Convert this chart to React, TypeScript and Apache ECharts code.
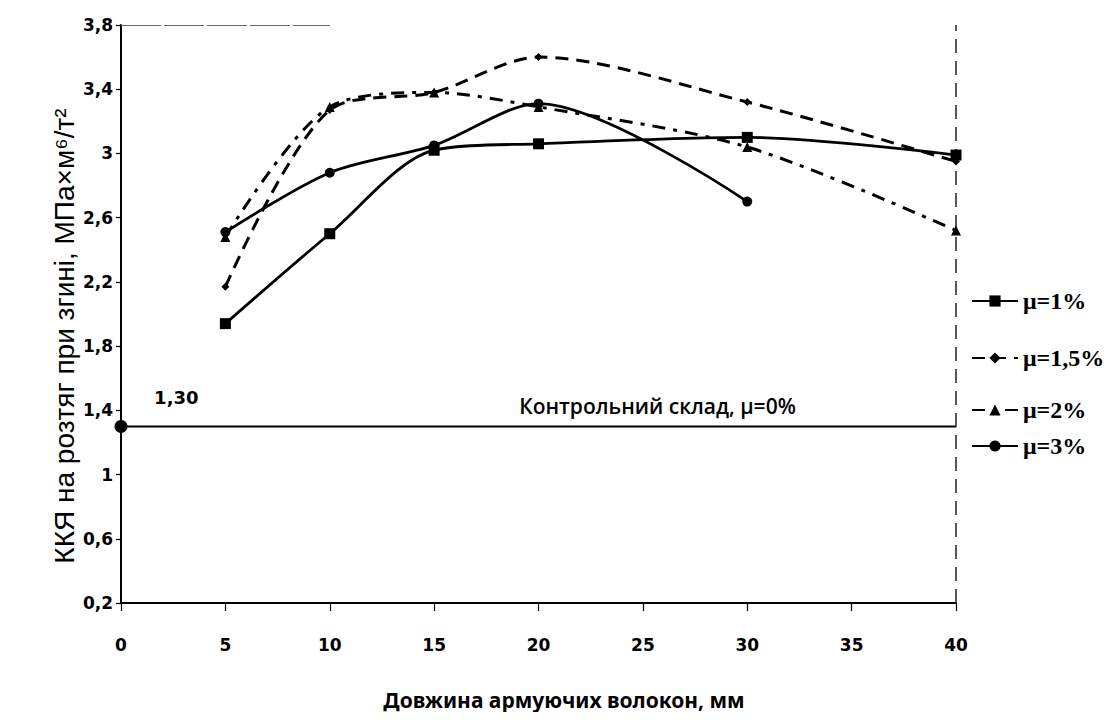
import React, { useEffect, useRef } from "react";
import * as echarts from "echarts";

const xTicks = [0, 5, 10, 15, 20, 25, 30, 35, 40];
const s1x = [5, 10, 15, 20, 30, 40];
const s1y = [1.94, 2.5, 3.02, 3.06, 3.1, 2.99];
const s15x = [5, 10, 15, 20, 30, 40];
const s15y = [2.17, 3.27, 3.38, 3.6, 3.32, 2.95];
const s2x = [5, 10, 15, 20, 30, 40];
const s2y = [2.48, 3.29, 3.38, 3.29, 3.04, 2.52];
const s3x = [5, 10, 15, 20, 30];
const s3y = [2.51, 2.88, 3.05, 3.31, 2.7];
const controlValue = 1.3;
const controlLabel = "1,30";
const controlText = "Контрольний склад, μ=0%";
const names = ["μ=1%", "μ=1,5%", "μ=2%", "μ=3%"];

const fmt = (v: number) => String(Number(v.toFixed(1))).replace(".", ",");

export default function App() {
  const ref = useRef<HTMLDivElement>(null);
  useEffect(() => {
    const chart = echarts.init(ref.current!, null, { renderer: "svg" });
    const zip = (xs: number[], ys: number[]) => xs.map((x, i) => [x, ys[i]]);
    const legendText = { fontFamily: "Liberation Serif", fontWeight: "bold", fontSize: 24, color: "#000" };
    const mkLegend = (name: string, top: number) => ({
      data: [name],
      left: 966,
      top,
      orient: "vertical",
      itemWidth: 46,
      itemHeight: 14,
      itemGap: 0,
      textStyle: legendText,
    });
    const tickFont = { fontFamily: "DejaVu Sans", fontWeight: "bold", fontSize: 17, color: "#000" };
    chart.setOption({
      animation: false,
      backgroundColor: "#fff",
      grid: { left: 121, right: 161, top: 25, bottom: 117, containLabel: false },
      legend: [
        mkLegend(names[0], 284),
        mkLegend(names[1], 341),
        mkLegend(names[2], 393),
        mkLegend(names[3], 429),
      ],
      xAxis: {
        type: "value",
        min: 0,
        max: 40,
        interval: 5,
        axisLine: { show: true, lineStyle: { color: "#000", width: 2 } },
        axisTick: { show: true, inside: false, length: 8, lineStyle: { color: "#000", width: 1.2 } },
        splitLine: { show: false },
        axisLabel: {
          margin: 33,
          ...tickFont,
          formatter: (v: number) => (xTicks.includes(v) ? String(v) : ""),
        },
      },
      yAxis: {
        type: "value",
        min: 0.2,
        max: 3.8,
        interval: 0.4,
        axisLine: { show: true, lineStyle: { color: "#000", width: 2 } },
        axisTick: { show: true, length: 5, lineStyle: { color: "#000", width: 1.2 } },
        splitLine: { show: false },
        axisLabel: {
          margin: 8,
          ...tickFont,
          formatter: fmt,
        },
      },
      graphic: [
        {
          type: "text",
          x: 64,
          y: 336,
          rotation: Math.PI / 2,
          style: {
            text: "ККЯ на розтяг при згині, МПа×м⁶/т²",
            font: "28px 'Liberation Sans'",
            fill: "#000",
            align: "center",
            verticalAlign: "middle",
          },
        },
        {
          type: "text",
          x: 564,
          y: 700,
          style: {
            text: "Довжина армуючих волокон, мм",
            font: "bold 21px 'Noto Sans'",
            fill: "#000",
            align: "center",
            verticalAlign: "middle",
          },
        },
      ],
      series: [
        {
          name: names[0],
          type: "line",
          data: zip(s1x, s1y),
          smooth: 0.3,
          symbol: "rect",
          symbolSize: 11,
          itemStyle: { color: "#000" },
          lineStyle: { color: "#000", width: 2.8, type: "solid" },
          z: 5,
        },
        {
          name: names[1],
          type: "line",
          data: zip(s15x, s15y),
          smooth: 0.3,
          symbol: "diamond",
          symbolSize: 8,
          itemStyle: { color: "#000" },
          lineStyle: { color: "#000", width: 3, type: [13, 8] },
          z: 5,
        },
        {
          name: names[2],
          type: "line",
          data: zip(s2x, s2y),
          smooth: 0.3,
          symbol: "triangle",
          symbolSize: 10,
          itemStyle: { color: "#000" },
          lineStyle: { color: "#000", width: 3, type: [13, 8, 4, 8] },
          z: 5,
        },
        {
          name: names[3],
          type: "line",
          data: zip(s3x, s3y),
          smooth: 0.3,
          symbol: "circle",
          symbolSize: 10,
          itemStyle: { color: "#000" },
          lineStyle: { color: "#000", width: 2.8, type: "solid" },
          z: 5,
        },
        {
          name: "control",
          type: "line",
          data: [
            { value: [0, controlValue], symbol: "circle", symbolSize: 13 },
            { value: [40, controlValue], symbol: "none" },
          ],
          itemStyle: { color: "#000" },
          lineStyle: { color: "#000", width: 2 },
          label: { show: false },
          markPoint: {
            symbol: "circle",
            symbolSize: 0,
            data: [
              {
                coord: [2.65, controlValue],
                label: {
                  show: true,
                  formatter: controlLabel,
                  offset: [0, -29],
                  fontFamily: "DejaVu Sans",
                  fontWeight: "bold",
                  fontSize: 18,
                  color: "#000",
                },
              },
              {
                coord: [25.7, controlValue],
                label: {
                  show: true,
                  formatter: controlText,
                  offset: [0, -20],
                  fontFamily: "Open Sans",
                  fontWeight: 600,
                  fontSize: 21,
                  color: "#000",
                },
              },
            ],
          },
          markLine: {
            silent: true,
            symbol: "none",
            label: { show: false },
            data: [
              [
                { coord: [40, 0.2], lineStyle: { color: "#222", width: 1.5, type: [14, 8] } },
                { coord: [40, 3.8] },
              ],
              [
                { coord: [0, 3.8], lineStyle: { color: "#666", width: 1.2, type: [40, 3] } },
                { coord: [10, 3.8] },
              ],
            ],
          },
          z: 4,
        },
      ],
    });
    return () => chart.dispose();
  }, []);
  return <div ref={ref} style={{ width: 1117, height: 720, margin: -8 }} />;
}
